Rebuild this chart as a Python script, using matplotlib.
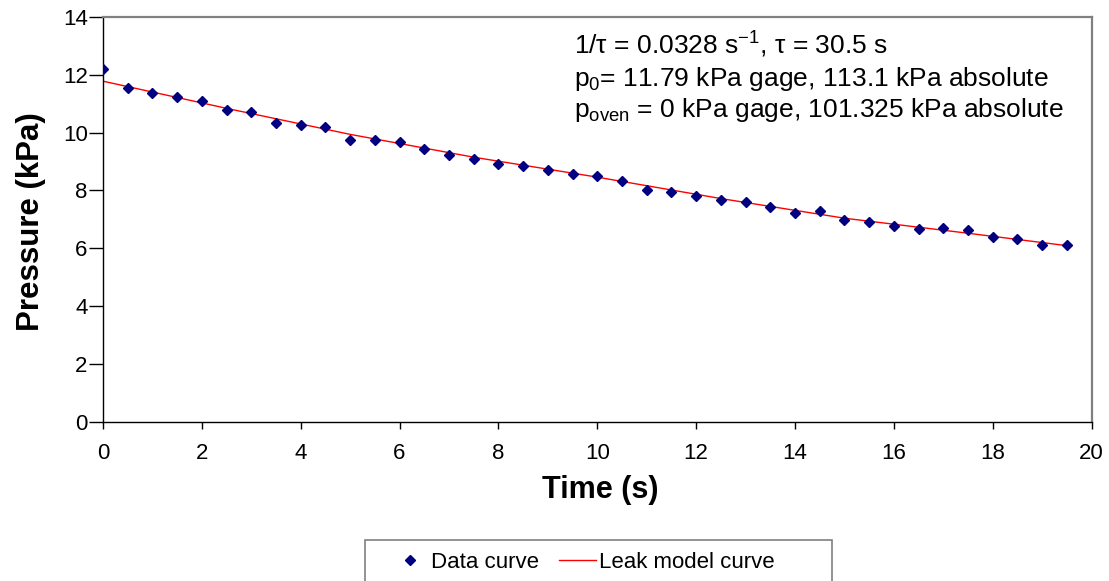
import matplotlib
matplotlib.use("Agg")
import matplotlib.pyplot as plt
from matplotlib.patches import Rectangle

plt.rcParams['font.family'] = ['Liberation Sans', 'DejaVu Sans']
plt.rcParams['mathtext.fontset'] = 'custom'
plt.rcParams['mathtext.rm'] = 'Liberation Sans'
plt.rcParams['mathtext.it'] = 'Liberation Sans:italic'

# Data
time_s = [0, 0.5, 1, 1.5, 2, 2.5, 3, 3.5, 4, 4.5,
          5, 5.5, 6, 6.5, 7, 7.5, 8, 8.5, 9, 9.5,
          10, 10.5, 11, 11.5, 12, 12.5, 13, 13.5, 14, 14.5,
          15, 15.5, 16, 16.5, 17, 17.5, 18, 18.5, 19, 19.5]
pressure_kpa = [12.20, 11.53, 11.38, 11.23, 11.08, 10.80, 10.71, 10.34, 10.26, 10.19,
                9.74, 9.74, 9.67, 9.45, 9.22, 9.08, 8.93, 8.85, 8.70, 8.56,
                8.49, 8.34, 8.03, 7.95, 7.80, 7.66, 7.59, 7.44, 7.21, 7.29,
                6.99, 6.91, 6.78, 6.68, 6.70, 6.62, 6.39, 6.32, 6.10, 6.10]

model_t = [0, 2.5, 5, 7.5, 10, 12.5, 15, 17.5, 19.5]
model_p = [11.78, 10.84, 9.94, 9.15, 8.46, 7.72, 7.04, 6.52, 6.09]

x_ticks = [0, 2, 4, 6, 8, 10, 12, 14, 16, 18, 20]
y_ticks = [0, 2, 4, 6, 8, 10, 12, 14]

W, H = 1109, 581
fig = plt.figure(figsize=(W / 100, H / 100), dpi=100)
ax = fig.add_axes([103/W, 1 - 421.7/H, (1091.5 - 103)/W, (421.7 - 17)/H])

ax.plot(time_s, pressure_kpa, linestyle='none', marker='D', markersize=5,
        color='#000080', label='Data curve', zorder=3)
ax.plot(model_t, model_p, color='#ff0000', linewidth=1.0,
        label='Leak model curve', zorder=2)

ax.set_xlim(0, 20)
ax.set_ylim(0, 14)
ax.set_xticks(x_ticks)
ax.set_yticks(y_ticks)
ax.tick_params(direction='out', width=1, labelsize=16, color='black')
ax.tick_params(axis='x', length=5, pad=10)
ax.tick_params(axis='y', length=10, pad=1)

for side in ['left', 'bottom']:
    ax.spines[side].set_color('black')
    ax.spines[side].set_linewidth(1.0)
for side in ['top', 'right']:
    ax.spines[side].set_color('#808080')
    ax.spines[side].set_linewidth(1.6)

fig.text(600/W, 1 - 498/H, 'Time (s)', fontsize=22, fontweight='bold',
         ha='center', va='baseline')
fig.text(31/W, 1 - 222/H, 'Pressure (kPa)', fontsize=22.5, fontweight='bold',
         ha='center', va='center', rotation=90)

txt_kw = dict(fontsize=19, ha='left', va='baseline')
fig.text(574/W, 1 - 54.5/H, r'1/τ = 0.0328 s$^{\mathregular{-1}}$, τ = 30.5 s', **txt_kw)
fig.text(574/W, 1 - 86/H, r'p$_{\mathregular{0}}$= 11.79 kPa gage, 113.1 kPa absolute', **txt_kw)
fig.text(574/W, 1 - 117/H, r'p$_{\mathregular{oven}}$ = 0 kPa gage, 101.325 kPa absolute', **txt_kw)

# Legend with an Excel-like frame running off the bottom edge
fig.patches.append(Rectangle((365/W, 1 - 600/H), (832 - 365)/W, (600 - 540)/H,
                             transform=fig.transFigure, facecolor='white',
                             edgecolor='#808080', linewidth=1.2, zorder=0))
leg = fig.legend(loc='center', bbox_to_anchor=(583/W, 1 - 562/H),
                 ncol=2, fontsize=16, frameon=False,
                 handlelength=1.66, handletextpad=0.12,
                 columnspacing=0.9, borderpad=0.2)

fig.savefig('out.png', dpi=100, facecolor='white')
